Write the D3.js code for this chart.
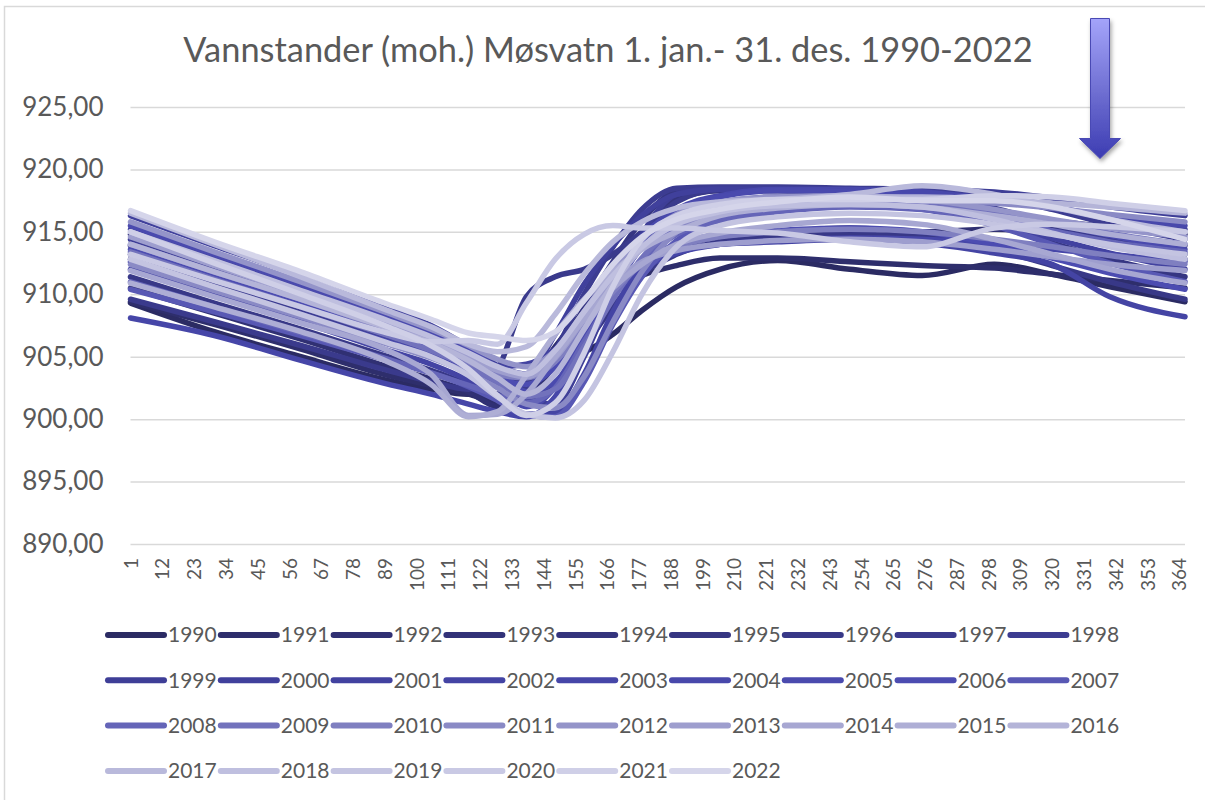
<!DOCTYPE html>
<html lang="no">
<head>
<meta charset="utf-8">
<title>Vannstander Møsvatn</title>
<script src="https://d3js.org/d3.v7.min.js"></script>
<style>
  body { margin: 0; background: #fff; }
  svg { display: block; font-family: Lato, "Open Sans", sans-serif; }
</style>
</head>
<body>
<svg id="chart" width="1205" height="800"></svg>
<script>
var days = [1, 30, 60, 90, 105, 118, 128, 138, 148, 158, 168, 178, 190, 205, 225, 250, 275, 300, 320, 340, 366];

var years = [1990, 1991, 1992, 1993, 1994, 1995, 1996, 1997, 1998, 1999, 2000, 2001, 2002, 2003, 2004, 2005,
             2006, 2007, 2008, 2009, 2010, 2011, 2012, 2013, 2014, 2015, 2016, 2017, 2018, 2019, 2020, 2021, 2022];

// water level (moh.) per year at the days above
var y1990 = [909.3, 907.0, 905.0, 903.1, 902.4, 902.0, 902.0, 903.2, 905.0, 905.4, 906.8, 908.7, 910.6, 912.0, 912.7, 912.0, 911.5, 912.4, 911.6, 910.6, 909.4];
var y1991 = [909.4, 907.6, 905.6, 903.5, 902.7, 902.0, 901.4, 902.6, 905.8, 908.6, 910.3, 911.5, 912.3, 912.9, 912.9, 912.6, 912.3, 912.1, 911.6, 911.1, 910.5];
var y1992 = [910.5, 908.5, 906.4, 904.2, 903.2, 902.2, 901.0, 901.5, 904.5, 907.8, 910.5, 912.6, 913.8, 914.6, 915.0, 915.3, 915.0, 915.2, 914.9, 914.4, 913.9];
var y1993 = [913.9, 911.7, 909.5, 907.1, 905.8, 904.5, 903.6, 903.3, 905.0, 908.5, 911.5, 914.0, 916.2, 917.2, 917.6, 917.4, 917.0, 916.5, 915.9, 915.4, 914.8];
var y1994 = [914.8, 912.6, 910.3, 907.8, 906.3, 904.9, 903.8, 903.0, 904.2, 907.5, 911.2, 914.8, 917.6, 918.3, 918.3, 918.1, 917.6, 916.4, 915.3, 914.3, 913.2];
var y1995 = [913.2, 911.0, 908.8, 906.4, 905.1, 903.7, 902.8, 902.4, 904.8, 908.9, 912.6, 915.9, 918.2, 918.4, 918.4, 918.2, 917.3, 915.6, 914.1, 912.8, 911.4];
var y1996 = [911.4, 909.3, 907.2, 905.0, 903.9, 902.8, 902.0, 901.6, 902.8, 905.8, 909.0, 911.6, 913.2, 914.2, 914.6, 914.8, 914.6, 913.6, 912.3, 911.0, 909.6];
var y1997 = [909.6, 907.8, 905.9, 903.9, 903.0, 902.4, 904.0, 909.8, 911.4, 912.0, 913.2, 915.0, 917.4, 918.4, 918.5, 918.4, 917.9, 916.9, 915.6, 914.3, 912.8];
var y1998 = [912.8, 910.8, 908.7, 906.5, 905.4, 904.2, 903.0, 902.6, 905.5, 910.0, 913.8, 916.8, 918.5, 918.6, 918.6, 918.5, 918.4, 917.8, 916.8, 915.6, 914.4];
var y1999 = [914.4, 912.2, 909.9, 907.5, 906.2, 904.8, 903.4, 901.6, 901.2, 905.0, 910.2, 914.8, 918.0, 918.5, 918.5, 918.4, 918.4, 918.2, 917.7, 917.0, 916.3];
var y2000 = [916.3, 913.9, 911.5, 908.9, 907.5, 905.8, 904.3, 903.6, 906.8, 910.8, 913.9, 916.3, 918.0, 918.4, 918.4, 918.3, 918.1, 917.6, 916.9, 916.1, 915.2];
var y2001 = [915.2, 912.8, 910.4, 907.9, 906.6, 905.1, 904.2, 904.4, 905.6, 908.2, 911.3, 914.0, 916.2, 917.3, 917.8, 917.6, 917.0, 915.8, 914.5, 913.3, 912.0];
var y2002 = [912.0, 909.9, 907.8, 905.5, 904.4, 903.1, 901.8, 900.4, 900.5, 903.6, 908.6, 912.2, 913.5, 914.0, 914.2, 914.4, 914.1, 913.3, 912.4, 909.8, 908.2];
var y2003 = [908.1, 906.7, 904.7, 902.8, 902.0, 901.2, 900.6, 900.2, 901.8, 906.0, 909.8, 912.0, 913.3, 914.0, 914.3, 914.5, 914.4, 914.0, 913.6, 913.2, 912.6];
var y2004 = [912.6, 910.5, 908.4, 906.2, 905.1, 903.9, 902.6, 901.0, 902.6, 907.2, 911.5, 914.6, 916.8, 917.9, 918.4, 918.4, 918.2, 917.6, 917.0, 916.2, 915.5];
var y2005 = [915.5, 913.2, 910.8, 908.3, 907.0, 905.5, 904.1, 902.2, 903.0, 906.4, 910.4, 913.8, 916.6, 917.8, 918.3, 918.2, 917.8, 916.8, 915.7, 914.7, 913.6];
var y2006 = [913.6, 911.4, 909.2, 906.9, 905.7, 904.4, 903.2, 902.8, 904.2, 907.6, 910.6, 912.6, 914.0, 914.8, 915.1, 915.3, 915.0, 914.0, 912.9, 911.7, 910.4];
var y2007 = [910.4, 908.6, 906.7, 904.7, 903.7, 902.6, 901.5, 900.3, 900.2, 903.0, 907.6, 911.4, 914.3, 916.0, 916.9, 917.2, 916.8, 915.5, 914.0, 912.5, 911.0];
var y2008 = [911.0, 909.0, 906.9, 904.8, 903.7, 902.7, 901.9, 901.3, 902.5, 906.2, 909.8, 912.6, 914.8, 915.9, 916.6, 917.0, 916.8, 916.0, 915.1, 914.2, 913.4];
var y2009 = [913.4, 911.2, 909.0, 906.7, 905.5, 904.2, 903.0, 901.8, 902.4, 905.8, 909.6, 912.9, 915.4, 916.6, 917.2, 917.5, 917.3, 916.6, 915.8, 914.9, 914.0];
var y2010 = [914.0, 911.8, 909.6, 907.2, 906.0, 904.6, 903.6, 903.3, 904.6, 907.4, 910.2, 912.4, 913.8, 914.6, 915.0, 915.2, 915.0, 914.4, 913.8, 913.1, 912.4];
var y2011 = [912.4, 910.3, 908.2, 906.0, 904.9, 903.7, 902.5, 901.2, 900.9, 903.4, 907.8, 911.8, 915.0, 916.6, 917.3, 917.7, 917.6, 917.3, 916.9, 916.4, 915.8];
var y2012 = [915.8, 913.4, 911.0, 908.5, 907.2, 905.9, 904.8, 904.2, 905.5, 908.6, 911.8, 914.4, 916.4, 917.4, 917.8, 917.9, 917.6, 916.8, 916.0, 915.3, 914.6];
var y2013 = [914.6, 912.3, 910.0, 907.6, 906.3, 905.0, 903.9, 903.4, 904.9, 908.0, 910.9, 912.6, 913.5, 914.0, 914.3, 914.4, 914.2, 913.6, 913.0, 912.4, 911.9];
var y2014 = [911.9, 909.8, 907.7, 905.5, 903.6, 900.3, 900.4, 902.0, 905.0, 908.0, 910.5, 912.4, 914.0, 914.9, 915.5, 915.9, 915.6, 914.4, 913.2, 912.0, 910.9];
var y2015 = [910.9, 909.0, 907.0, 904.6, 902.8, 900.2, 900.6, 903.5, 906.8, 909.6, 911.8, 913.6, 915.0, 916.3, 916.9, 917.2, 917.0, 916.3, 915.6, 914.8, 914.0];
var y2016 = [914.0, 911.8, 909.6, 907.3, 906.1, 904.7, 903.3, 902.0, 903.6, 907.2, 910.8, 913.7, 915.9, 917.0, 917.5, 917.8, 917.8, 917.6, 917.3, 917.0, 916.5];
var y2017 = [916.5, 914.0, 911.4, 908.7, 907.4, 906.0, 905.4, 905.8, 908.4, 911.6, 914.2, 915.8, 916.9, 917.4, 917.6, 918.0, 918.7, 918.0, 917.0, 916.0, 915.0];
var y2018 = [915.0, 912.7, 910.3, 907.9, 906.6, 905.3, 904.2, 903.6, 905.5, 908.6, 911.5, 913.8, 915.6, 916.6, 917.1, 917.2, 917.0, 916.0, 914.9, 913.8, 912.8];
var y2019 = [912.8, 910.6, 908.4, 906.1, 905.0, 903.5, 901.8, 900.4, 900.1, 901.5, 905.4, 910.0, 913.8, 915.5, 916.2, 916.5, 916.3, 915.6, 914.8, 914.0, 913.2];
var y2020 = [913.2, 911.1, 909.0, 906.9, 906.2, 906.3, 906.0, 909.3, 912.8, 914.8, 915.5, 915.3, 915.3, 915.1, 914.9, 914.2, 913.8, 915.3, 915.6, 915.4, 915.0];
var y2021 = [915.0, 912.5, 910.0, 907.4, 905.9, 904.0, 901.9, 900.3, 901.3, 905.3, 910.6, 914.4, 916.3, 917.2, 917.6, 917.6, 917.6, 917.9, 917.8, 917.3, 916.7];
var y2022 = [916.7, 914.2, 911.8, 909.2, 908.0, 906.9, 906.6, 906.3, 907.0, 909.5, 912.4, 914.6, 916.0, 916.8, 917.4, 917.8, 917.5, 917.5, 917.0, 916.0, 914.4];

var series = [y1990, y1991, y1992, y1993, y1994, y1995, y1996, y1997, y1998, y1999, y2000, y2001, y2002, y2003, y2004, y2005,
              y2006, y2007, y2008, y2009, y2010, y2011, y2012, y2013, y2014, y2015, y2016, y2017, y2018, y2019, y2020, y2021, y2022];

var yTicks = [890, 895, 900, 905, 910, 915, 920, 925];
var xTicks = [1, 12, 23, 34, 45, 56, 67, 78, 89, 100, 111, 122, 133, 144, 155, 166, 177, 188, 199, 210, 221, 232,
              243, 254, 265, 276, 287, 298, 309, 320, 331, 342, 353, 364];

var palette = ["#2b2b63", "#2e2e6c", "#303073", "#323278", "#34347d", "#363682", "#383887", "#3a3a8c", "#3c3c91",
               "#3e3e97", "#40409c", "#4242a0", "#4444a4", "#4646a8", "#4848ab", "#4a4aae", "#4c4cb1", "#5858b4",
               "#6565b8", "#7272bc", "#7f7fc0", "#8a8ac5", "#9494c9", "#9e9ece", "#a7a7d2", "#aeaed5", "#b4b4d8",
               "#b9b9db", "#bfbfdf", "#c4c4e1", "#c9c9e4", "#cfcfe7", "#d5d5ea"];

var plotLeft = 130.5, plotRight = 1185, plotTop = 107, plotBottom = 544;

var svg = d3.select("#chart");

// chart frame
svg.append("rect")
    .attr("x", 4.5).attr("y", 6.5)
    .attr("width", 1210).attr("height", 810)
    .attr("fill", "none").attr("stroke", "#d9d9d9").attr("stroke-width", 1.5);

var x = d3.scaleLinear().domain([1, 366]).range([plotLeft, plotRight]);
var y = d3.scaleLinear().domain([890, 925]).range([plotBottom, plotTop]);

var no = d3.formatLocale({ decimal: ",", thousands: " ", grouping: [3], currency: ["", " kr"] });
var fmt = no.format(".2f");

// y axis + gridlines
var yAxis = svg.append("g")
    .attr("transform", "translate(" + plotLeft + ",0)")
    .call(d3.axisLeft(y).tickValues(yTicks).tickFormat(fmt).tickSize(-(plotRight - plotLeft)).tickPadding(27));
yAxis.select(".domain").remove();
yAxis.selectAll("line").attr("stroke", "#d9d9d9").attr("stroke-width", 1.5);
yAxis.selectAll("text").attr("fill", "#595959")
    .style("font-size", "26px").style("font-family", "Lato, sans-serif");

// x axis (category labels, rotated)
var xAxis = svg.append("g")
    .attr("transform", "translate(0," + plotBottom + ")")
    .call(d3.axisBottom(x).tickValues(xTicks).tickSize(0));
xAxis.select(".domain").remove();
xAxis.selectAll("text")
    .attr("fill", "#595959")
    .attr("transform", "rotate(-90)")
    .attr("x", -14).attr("y", 0).attr("dy", "0.35em")
    .attr("text-anchor", "end")
    .style("font-size", "19px").style("font-family", "Lato, sans-serif");

// series lines
var line = d3.line()
    .x(function (d, i) { return x(days[i]); })
    .y(function (d) { return y(d); })
    .curve(d3.curveMonotoneX);

svg.append("g").selectAll("path")
    .data(series)
    .join("path")
    .attr("d", line)
    .attr("fill", "none")
    .attr("stroke", function (d, i) { return palette[i]; })
    .attr("stroke-width", 5.5)
    .attr("stroke-linejoin", "round")
    .attr("stroke-linecap", "round");

// title, sized to span the same width as in the original
var title = svg.append("text")
    .attr("x", 608).attr("y", 62)
    .attr("text-anchor", "middle")
    .attr("fill", "#595959")
    .style("font-size", "30px")
    .text("Vannstander (moh.) Møsvatn 1. jan.- 31. des. 1990-2022");
var tw = title.node().getComputedTextLength();
title.style("font-size", (30 * 850 / tw).toFixed(1) + "px");

// legend
var leg = svg.append("g").selectAll("g")
    .data(years)
    .join("g")
    .attr("transform", function (d, i) {
        return "translate(" + (108 + (i % 9) * 112.8) + "," + (635 + Math.floor(i / 9) * 45.3) + ")";
    });
leg.append("line")
    .attr("x1", 0).attr("x2", 56)
    .attr("stroke", function (d, i) { return palette[i]; })
    .attr("stroke-width", 6).attr("stroke-linecap", "round");
leg.append("text")
    .attr("x", 60).attr("dy", "0.35em")
    .attr("fill", "#595959")
    .style("font-size", "21px")
    .text(function (d) { return d; });

// arrow marker at the top right
var defs = svg.append("defs");
var grad = defs.append("linearGradient").attr("id", "arrowGrad")
    .attr("x1", 0).attr("y1", 0).attr("x2", 0).attr("y2", 1);
grad.append("stop").attr("offset", "0%").attr("stop-color", "#a4a4fa");
grad.append("stop").attr("offset", "55%").attr("stop-color", "#6c6cd0");
grad.append("stop").attr("offset", "100%").attr("stop-color", "#3c3cb2");
var shadow = defs.append("filter").attr("id", "arrowShadow")
    .attr("x", "-50%").attr("y", "-20%").attr("width", "200%").attr("height", "150%");
shadow.append("feDropShadow").attr("dx", 1.5).attr("dy", 3).attr("stdDeviation", 2)
    .attr("flood-color", "#000").attr("flood-opacity", 0.35);

svg.append("path")
    .attr("d", "M1090.5,18.5 L1109.5,18.5 L1109.5,138.5 L1120.5,138.5 L1100,158.5 L1079.5,138.5 L1090.5,138.5 Z")
    .attr("fill", "url(#arrowGrad)")
    .attr("stroke", "#4a4ab4").attr("stroke-width", 1)
    .attr("filter", "url(#arrowShadow)");
</script>
</body>
</html>
